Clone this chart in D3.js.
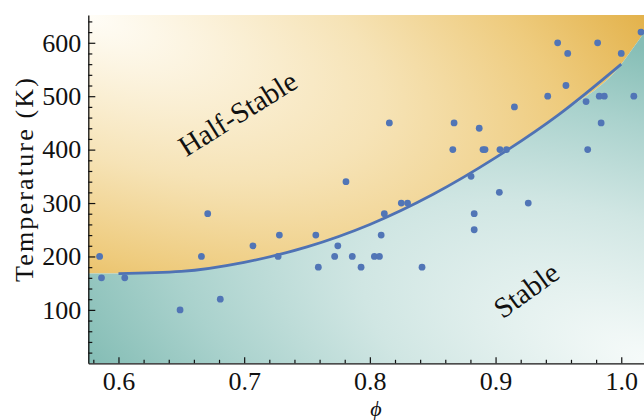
<!DOCTYPE html>
<html>
<head>
<meta charset="utf-8">
<script src="https://cdn.jsdelivr.net/npm/d3@7"></script>
<style>
  html, body { margin: 0; padding: 0; background: #ffffff; }
  svg { display: block; }
  text { font-family: "Liberation Serif", "DejaVu Serif", serif; }
</style>
</head>
<body>
<div id="chart"></div>
<script>
// ---------------- data ----------------
const phi = [0.585, 0.5865, 0.605, 0.649, 0.666, 0.671, 0.681, 0.707, 0.727, 0.728,
  0.757, 0.759, 0.772, 0.7745, 0.781, 0.786, 0.793, 0.8036, 0.8076, 0.809,
  0.8115, 0.8155, 0.825, 0.830, 0.8415, 0.866, 0.867, 0.8805, 0.883, 0.883,
  0.887, 0.890, 0.8916, 0.903, 0.9035, 0.9087, 0.915, 0.926, 0.9415, 0.9494,
  0.956, 0.9574, 0.972, 0.9733, 0.9812, 0.9825, 0.984, 0.9865, 1.000, 1.010, 1.0157];
const temperature = [200, 160, 160, 100, 200, 280, 120, 220, 200, 240,
  240, 180, 200, 220, 340, 200, 180, 200, 200, 240,
  280, 450, 300, 300, 180, 400, 450, 350, 280, 250,
  440, 400, 400, 320, 400, 400, 480, 300, 500, 600,
  520, 580, 490, 400, 600, 500, 450, 500, 580, 500, 620];

// fitted boundary line (as drawn)
const linePhi = [0.60, 0.65, 0.70, 0.75, 0.80, 0.85, 0.90, 0.95, 1.00];
const lineT   = [168, 172, 189, 218, 260, 316, 385, 465, 560];
// region boundary used for shading (extends past the line)
const boundPhi = [0.570, 0.60, 0.65, 0.70, 0.75, 0.80, 0.85, 0.90, 0.95, 1.00, 1.01, 1.02, 1.03, 1.04];
const boundT   = [168, 168, 172, 189, 218, 260, 316, 385, 465, 560, 592, 626, 662, 700];

const xMajor = [0.6, 0.7, 0.8, 0.9, 1.0];
const yMajor = [100, 200, 300, 400, 500, 600];
const regionLabels = ["Half-Stable", "Stable"];
const xTitle = "ϕ";
const yTitle = "Temperature (K)";

// ---------------- layout ----------------
const W = 644, H = 420;
const L = 88.3, R = 664, T = 15, B = 363.3;
const x = d3.scaleLinear().domain([0.576, 1.034]).range([L, R]);
const y = d3.scaleLinear().domain([0, 652]).range([B, T]);

const svg = d3.select("#chart").append("svg").attr("width", W).attr("height", H);
const defs = svg.append("defs");
defs.append("clipPath").attr("id", "plotClip")
  .append("rect").attr("x", L).attr("y", T).attr("width", R - L).attr("height", B - T);

function radial(id, tx, ty, stops) {
  const g = defs.append("radialGradient").attr("id", id)
    .attr("gradientUnits", "userSpaceOnUse")
    .attr("cx", 0).attr("cy", 0).attr("r", 1).attr("fx", 0).attr("fy", 0)
    .attr("gradientTransform", `translate(${tx},${ty}) rotate(20) scale(680,297)`);
  stops.forEach(s => g.append("stop").attr("offset", s[0]).attr("stop-color", s[1]));
}
radial("gOrange", L, T, [[0, "#fffdf7"], [0.45, "#f6e3b6"], [0.75, "#eecb7d"], [1, "#e3b24b"]]);
radial("gTeal", R - 10, B, [[0, "#f7fbfa"], [0.45, "#d0e6e3"], [0.75, "#aad2cd"], [1, "#86beb6"]]);

const bound = boundPhi.map((p, i) => [p, boundT[i]]);
const plot = svg.append("g").attr("clip-path", "url(#plotClip)");
plot.append("path").datum(bound)
  .attr("fill", "url(#gOrange)")
  .attr("d", d3.area().x(d => x(d[0])).y0(y(700)).y1(d => y(d[1])).curve(d3.curveMonotoneX));
plot.append("path").datum(bound)
  .attr("fill", "url(#gTeal)")
  .attr("d", d3.area().x(d => x(d[0])).y0(y(0)).y1(d => y(d[1])).curve(d3.curveMonotoneX));

// region labels
svg.append("text").text(regionLabels[0])
  .attr("transform", `translate(${x(0.699)},${y(452)}) rotate(-32)`)
  .attr("text-anchor", "middle").attr("font-size", 29).attr("fill", "#111");
svg.append("text").text(regionLabels[1])
  .attr("transform", `translate(${x(0.929)},${y(122)}) rotate(-36)`)
  .attr("text-anchor", "middle").attr("font-size", 29).attr("fill", "#111");

// line
const linePts = linePhi.map((p, i) => [p, lineT[i]]);
plot.append("path").datum(linePts)
  .attr("fill", "none").attr("stroke", "#4f72b4").attr("stroke-width", 2.7)
  .attr("d", d3.line().x(d => x(d[0])).y(d => y(d[1])).curve(d3.curveMonotoneX));

// points
plot.selectAll("circle.pt").data(phi.map((p, i) => [p, temperature[i]]))
  .enter().append("circle").attr("class", "pt")
  .attr("cx", d => x(d[0])).attr("cy", d => y(d[1])).attr("r", 3.4)
  .attr("fill", "#5175b6");

// axes
const yMinor = d3.range(20, 652, 20).filter(v => v % 100 !== 0);
const xMinor = d3.range(0, 23).map(i => +(0.58 + i * 0.02).toFixed(2)).filter(v => Math.round(v * 100) % 10 !== 0);

const ax = svg.append("g");
ax.append("g").attr("transform", `translate(${L},0)`)
  .call(d3.axisLeft(y).tickValues(yMajor).tickSize(-7).tickSizeOuter(0).tickPadding(7).tickFormat(d3.format("d")));
ax.append("g").attr("transform", `translate(${L},0)`)
  .call(d3.axisLeft(y).tickValues(yMinor).tickSize(-4).tickSizeOuter(0).tickFormat(""))
  .select(".domain").remove();
ax.append("g").attr("transform", `translate(0,${B})`)
  .call(d3.axisBottom(x).tickValues(xMajor).tickSize(-6).tickSizeOuter(0).tickPadding(8).tickFormat(d3.format(".1f")));
ax.append("g").attr("transform", `translate(0,${B})`)
  .call(d3.axisBottom(x).tickValues(xMinor).tickSize(-3.5).tickSizeOuter(0).tickFormat(""))
  .select(".domain").remove();

ax.selectAll(".domain").attr("stroke", "#111").attr("stroke-width", 1.3);
ax.selectAll(".tick line").attr("stroke", "#111").attr("stroke-width", 1.2);
ax.selectAll(".tick text").attr("font-family", "Liberation Serif, serif").attr("font-size", 26).attr("fill", "#111");

// titles
svg.append("text").text(xTitle)
  .attr("x", 376).attr("y", 416).attr("text-anchor", "middle")
  .attr("font-size", 22).attr("font-style", "italic").attr("fill", "#111");
svg.append("text").text(yTitle)
  .attr("transform", `translate(32.5,180) rotate(-90)`)
  .attr("text-anchor", "middle").attr("font-size", 26).attr("fill", "#111")
  .attr("textLength", 204).attr("lengthAdjust", "spacing");
</script>
</body>
</html>
